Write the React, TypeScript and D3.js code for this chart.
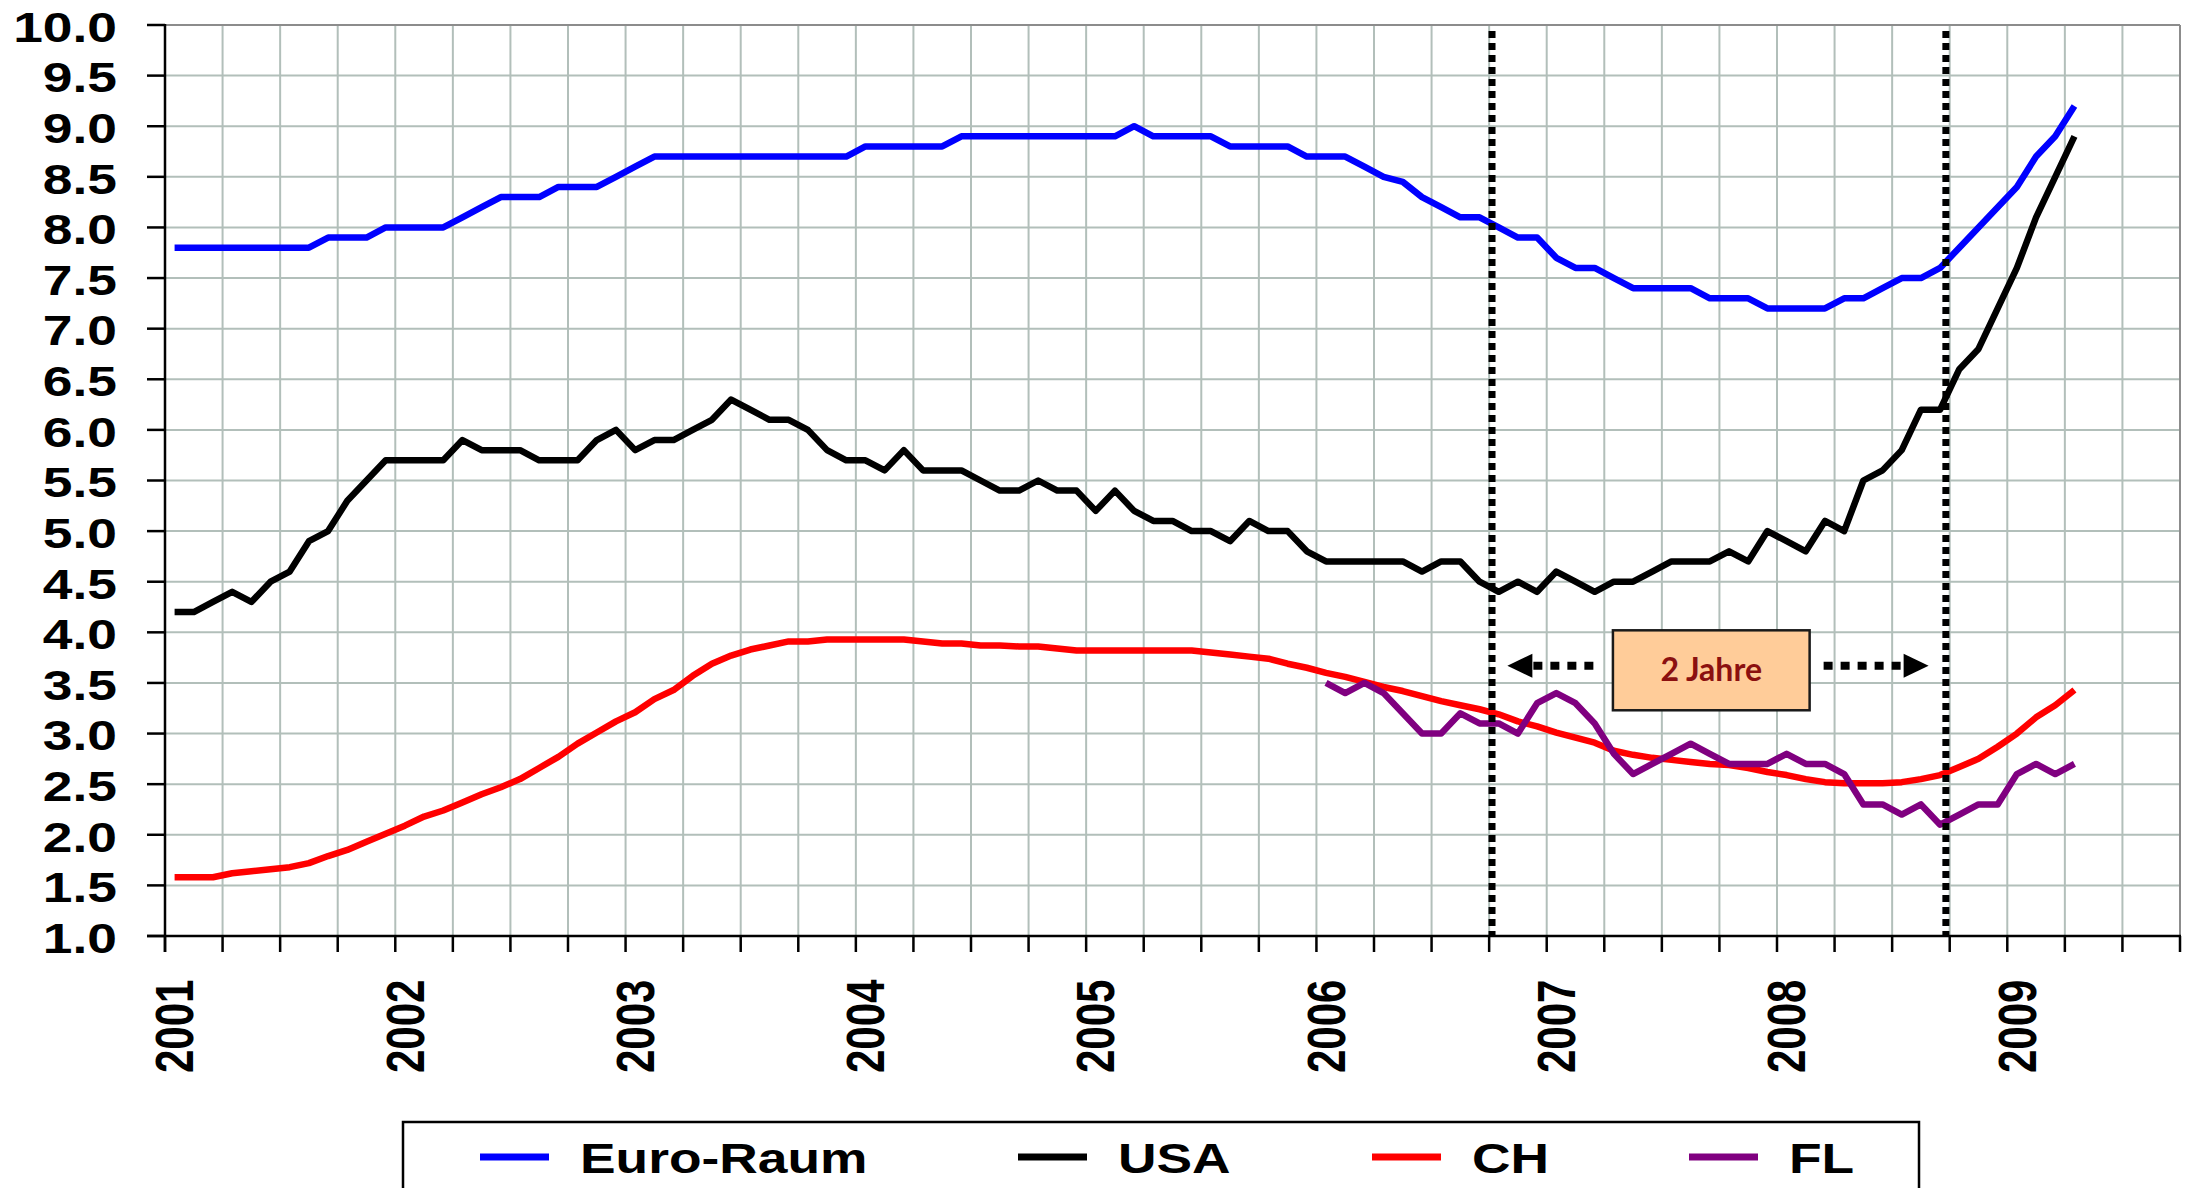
import * as d3 from "d3";

// monthly categories Jan 2001 .. Sep 2009 (axis runs to end of Sep 2009)
const months = d3.timeMonth.range(new Date(2001, 0, 1), new Date(2009, 9, 1));
const yearLabels = ["2001", "2002", "2003", "2004", "2005", "2006", "2007", "2008", "2009"];
const yTicks = [1.0, 1.5, 2.0, 2.5, 3.0, 3.5, 4.0, 4.5, 5.0, 5.5, 6.0, 6.5, 7.0, 7.5, 8.0, 8.5, 9.0, 9.5, 10.0];

// Jan 2001 .. Apr 2009
const euroRaum = [
  7.8, 7.8, 7.8, 7.8, 7.8, 7.8, 7.8, 7.8, 7.9, 7.9, 7.9, 8.0,
  8.0, 8.0, 8.0, 8.1, 8.2, 8.3, 8.3, 8.3, 8.4, 8.4, 8.4, 8.5,
  8.6, 8.7, 8.7, 8.7, 8.7, 8.7, 8.7, 8.7, 8.7, 8.7, 8.7, 8.7,
  8.8, 8.8, 8.8, 8.8, 8.8, 8.9, 8.9, 8.9, 8.9, 8.9, 8.9, 8.9,
  8.9, 8.9, 9.0, 8.9, 8.9, 8.9, 8.9, 8.8, 8.8, 8.8, 8.8, 8.7,
  8.7, 8.7, 8.6, 8.5, 8.45, 8.3, 8.2, 8.1, 8.1, 8.0, 7.9, 7.9,
  7.7, 7.6, 7.6, 7.5, 7.4, 7.4, 7.4, 7.4, 7.3, 7.3, 7.3, 7.2,
  7.2, 7.2, 7.2, 7.3, 7.3, 7.4, 7.5, 7.5, 7.6, 7.8, 8.0, 8.2,
  8.4, 8.7, 8.9, 9.2,
];
const usa = [
  4.2, 4.2, 4.3, 4.4, 4.3, 4.5, 4.6, 4.9, 5.0, 5.3, 5.5, 5.7,
  5.7, 5.7, 5.7, 5.9, 5.8, 5.8, 5.8, 5.7, 5.7, 5.7, 5.9, 6.0,
  5.8, 5.9, 5.9, 6.0, 6.1, 6.3, 6.2, 6.1, 6.1, 6.0, 5.8, 5.7,
  5.7, 5.6, 5.8, 5.6, 5.6, 5.6, 5.5, 5.4, 5.4, 5.5, 5.4, 5.4,
  5.2, 5.4, 5.2, 5.1, 5.1, 5.0, 5.0, 4.9, 5.1, 5.0, 5.0, 4.8,
  4.7, 4.7, 4.7, 4.7, 4.7, 4.6, 4.7, 4.7, 4.5, 4.4, 4.5, 4.4,
  4.6, 4.5, 4.4, 4.5, 4.5, 4.6, 4.7, 4.7, 4.7, 4.8, 4.7, 5.0,
  4.9, 4.8, 5.1, 5.0, 5.5, 5.6, 5.8, 6.2, 6.2, 6.6, 6.8, 7.2,
  7.6, 8.1, 8.5, 8.9,
];
const ch = [
  1.58, 1.58, 1.58, 1.62, 1.64, 1.66, 1.68, 1.72, 1.79, 1.85, 1.93, 2.01,
  2.09, 2.18, 2.24, 2.32, 2.40, 2.47, 2.55, 2.66, 2.77, 2.90, 3.01, 3.12,
  3.21, 3.34, 3.43, 3.57, 3.69, 3.77, 3.83, 3.87, 3.91, 3.91, 3.93, 3.93,
  3.93, 3.93, 3.93, 3.91, 3.89, 3.89, 3.87, 3.87, 3.86, 3.86, 3.84, 3.82,
  3.82, 3.82, 3.82, 3.82, 3.82, 3.82, 3.80, 3.78, 3.76, 3.74, 3.69, 3.65,
  3.60, 3.56, 3.51, 3.46, 3.42, 3.37, 3.32, 3.28, 3.24, 3.19, 3.12, 3.07,
  3.01, 2.96, 2.91, 2.83, 2.79, 2.76, 2.74, 2.72, 2.70, 2.69, 2.66, 2.62,
  2.59, 2.55, 2.52, 2.51, 2.51, 2.51, 2.52, 2.55, 2.59, 2.67, 2.75, 2.87,
  3.00, 3.16, 3.28, 3.43,
];
// FL starts Jan 2006
const flStart = 60;
const fl = [
  3.5, 3.4, 3.5, 3.4, 3.2, 3.0, 3.0, 3.2, 3.1, 3.1, 3.0, 3.3,
  3.4, 3.3, 3.1, 2.8, 2.6, 2.7, 2.8, 2.9, 2.8, 2.7, 2.7, 2.7,
  2.8, 2.7, 2.7, 2.6, 2.3, 2.3, 2.2, 2.3, 2.1, 2.2, 2.3, 2.3,
  2.6, 2.7, 2.6, 2.7,
];

// annotation, in months since Jan 2001 and in %
const markers = [69.15, 92.8];
const boxMonths = [75.45, 85.7];
const boxValues = [4.02, 3.23];
const arrowValue = 3.67;
const arrowTips = [69.95, 91.9];

const series = [
  { name: "Euro-Raum", values: euroRaum, start: 0, color: "#0000ff" },
  { name: "USA", values: usa, start: 0, color: "#000000" },
  { name: "CH", values: ch, start: 0, color: "#ff0000" },
  { name: "FL", values: fl, start: flStart, color: "#800080" },
];

const W = 2190;
const H = 1188;
const left = 165;
const right = 2180;
const top = 25;
const bottom = 936;
const stretch = 1.27;
const font = "'Liberation Sans', Arial, sans-serif";

export default function App() {
  const x = d3.scaleBand<Date>().domain(months).range([left, right]).padding(0);
  const bw = x.bandwidth();
  const xm = d3.scaleLinear().domain([0, months.length]).range([left, right]);
  const y = d3.scaleLinear().domain([1, 10]).range([bottom, top]);

  const quarterIdx = d3.range(0, months.length + 1, 3);

  const dotted = (x1: number, x2: number, yy: number) => (
    <line x1={x1} x2={x2} y1={yy} y2={yy} stroke="#000" strokeWidth={8} strokeDasharray="9 8" />
  );

  return (
    <div>
      <style>{`body{margin:0}`}</style>
      <svg width={W} height={H} style={{ display: "block", background: "#fff" }}>
        {/* grid */}
        <g stroke="#b2bfba" strokeWidth={2}>
          {yTicks.map((t) => (
            <line key={"h" + t} x1={left} x2={right} y1={y(t)} y2={y(t)} />
          ))}
          {quarterIdx.map((q) => (
            <line key={"v" + q} x1={xm(q)} x2={xm(q)} y1={top} y2={bottom} />
          ))}
        </g>
        <line x1={left} x2={right} y1={top} y2={top} stroke="#8c8c8c" strokeWidth={2} />
        <line x1={right} x2={right} y1={top} y2={bottom} stroke="#8c8c8c" strokeWidth={2} />

        {/* axes */}
        <g stroke="#000" strokeWidth={2.5}>
          <line x1={left} x2={left} y1={top - 1} y2={bottom + 16} />
          <line x1={left - 18} x2={right + 1} y1={bottom} y2={bottom} />
          {yTicks.map((t) => (
            <line key={"yt" + t} x1={left - 18} x2={left} y1={y(t)} y2={y(t)} />
          ))}
          {quarterIdx.map((q) => (
            <line key={"xt" + q} x1={xm(q)} x2={xm(q)} y1={bottom} y2={bottom + 16} />
          ))}
        </g>
        <g fontFamily={font} fontWeight="bold" fontSize={42} fill="#000">
          {yTicks.map((t) => (
            <text key={"yl" + t} transform={`translate(117,${y(t)}) scale(${stretch},1)`} textAnchor="end" dy="0.4em">
              {t.toFixed(1)}
            </text>
          ))}
          {yearLabels.map((yr, i) => (
            <text
              key={yr}
              transform={`translate(${(x(months[i * 12]) as number) + bw / 2},1073) scale(${stretch},1) rotate(-90)`}
              dy="0.35em"
            >
              {yr}
            </text>
          ))}
        </g>

        {/* series */}
        {series.map((s) => (
          <path
            key={s.name}
            d={
              d3
                .line<number>()
                .x((d, i) => (x(months[s.start + i]) as number) + bw / 2)
                .y((d) => y(d))(s.values) as string
            }
            fill="none"
            stroke={s.color}
            strokeWidth={6.5}
            strokeLinejoin="round"
          />
        ))}

        {/* 2-year markers */}
        {markers.map((m) => (
          <line key={"m" + m} x1={xm(m)} x2={xm(m)} y1={top + 6} y2={bottom} stroke="#000" strokeWidth={7} strokeDasharray="7 5" />
        ))}
        {dotted(xm(arrowTips[0]) + 26, xm(boxMonths[0]) - 12, y(arrowValue))}
        {dotted(xm(boxMonths[1]) + 14, xm(arrowTips[1]) - 26, y(arrowValue))}
        <path
          d={`M${xm(arrowTips[0])},${y(arrowValue)} L${xm(arrowTips[0]) + 25},${y(arrowValue) - 12} L${xm(arrowTips[0]) + 25},${y(arrowValue) + 12} Z`}
          fill="#000"
        />
        <path
          d={`M${xm(arrowTips[1])},${y(arrowValue)} L${xm(arrowTips[1]) - 25},${y(arrowValue) - 12} L${xm(arrowTips[1]) - 25},${y(arrowValue) + 12} Z`}
          fill="#000"
        />
        <rect
          x={xm(boxMonths[0])}
          y={y(boxValues[0])}
          width={xm(boxMonths[1]) - xm(boxMonths[0])}
          height={y(boxValues[1]) - y(boxValues[0])}
          fill="#ffcc99"
          stroke="#1a1a1a"
          strokeWidth={2.5}
        />
        <text
          x={(xm(boxMonths[0]) + xm(boxMonths[1])) / 2}
          y={(y(boxValues[0]) + y(boxValues[1])) / 2}
          textAnchor="middle"
          dy="0.35em"
          fontFamily="Lato, 'Open Sans', sans-serif"
          fontWeight="bold"
          fontSize={32}
          fill="#8b1010"
        >
          2 Jahre
        </text>

        {/* legend */}
        <rect x={403} y={1122} width={1516} height={90} fill="#fff" stroke="#000" strokeWidth={2.5} />
        {series.map((s, i) => {
          const lx = [480, 1018, 1372, 1689][i];
          return (
            <g key={"lg" + s.name}>
              <line x1={lx} x2={lx + 69} y1={1157} y2={1157} stroke={s.color} strokeWidth={7} />
              <text
                transform={`translate(${lx + 100},1173) scale(${stretch},1)`}
                fontFamily={font}
                fontWeight="bold"
                fontSize={42}
              >
                {s.name}
              </text>
            </g>
          );
        })}
      </svg>
    </div>
  );
}
